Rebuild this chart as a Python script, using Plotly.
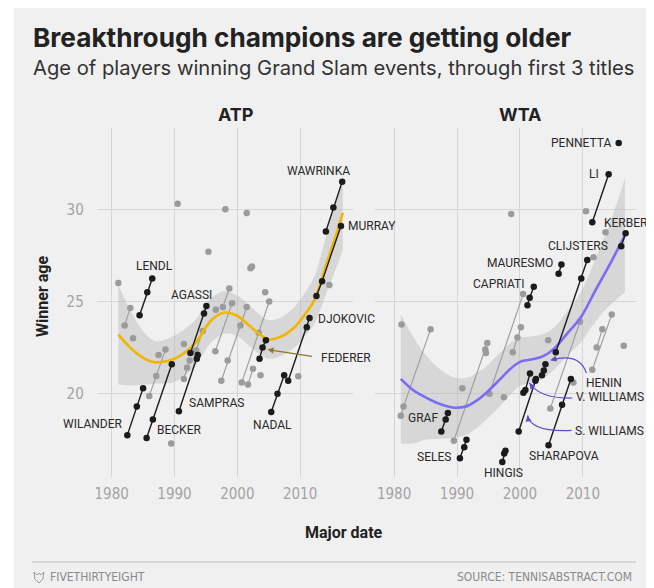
import plotly.graph_objects as go

# The page body has an 8 px margin, so the figure is sized to fit the 654x588 window.
PAGE_W, PAGE_H, OFF = 654, 588, 8
W, H = PAGE_W - OFF, PAGE_H - OFF

# ---------------- DATA ----------------
# ATP: first three Grand Slam titles (major date, age at title)
ATP_NAMES = ["Teacher", "Kriek", "Noah", "Edberg", "Cash", "Chang", "Gomez", "Stich",
             "Courier", "Bruguera", "Muster", "Kafelnikov", "Krajicek", "Rafter", "Korda",
             "Moya", "Kuerten", "Safin", "Hewitt", "Ivanisevic", "Johansson", "Costa",
             "Ferrero", "Roddick", "Gaudio", "Del Potro", "Cilic",
             "Wilander", "Lendl", "Becker", "Sampras", "Agassi", "Federer", "Nadal",
             "Djokovic", "Murray", "Wawrinka"]
ATP_DATES = [[1981.06], [1982.06, 1982.97], [1983.4], [1985.98, 1987.1, 1988.57], [1987.46],
             [1989.47], [1990.5], [1991.5], [1991.5, 1992.0, 1992.4], [1993.44, 1994.5],
             [1995.4], [1996.5, 1999.16], [1996.6], [1997.7, 1998.73], [1998.1], [1998.47],
             [1997.46, 2000.5, 2001.5], [2000.7, 2005.08], [2001.7, 2002.5], [2001.5],
             [2002.1], [2002.33], [2003.4], [2003.7], [2004.44], [2009.7], [2014.66],
             [1982.49, 1984.0, 1985.0], [1984.44, 1985.67, 1986.46], [1985.56, 1986.56, 1989.57],
             [1990.7, 1993.55, 1993.7], [1992.54, 1994.7, 1995.08], [2003.54, 2004.02, 2004.55],
             [2005.4, 2006.4, 2007.46], [2008.1, 2011.06, 2011.5], [2012.6, 2013.5, 2016.5],
             [2014.1, 2015.3, 2016.7]]
ATP_AGES = [[26.0], [23.7, 24.65], [23.0], [19.87, 20.96, 22.4], [22.1],
            [17.3], [30.3], [22.7], [20.8, 21.4, 21.8], [22.36, 23.4],
            [27.7], [22.3, 24.9], [24.55], [24.7, 25.7], [30.0], [21.8],
            [20.7, 23.7, 24.7], [20.6, 25.0], [20.5, 21.35], [29.8],
            [26.8], [26.9], [23.3], [21.0], [25.5], [20.95], [25.9],
            [17.75, 19.3, 20.3], [24.25, 25.5, 26.25], [17.6, 18.6, 21.6],
            [19.05, 21.9, 22.1], [22.2, 24.35, 24.75], [21.9, 22.5, 22.9],
            [19.0, 20.0, 21.0], [20.7, 23.6, 24.1], [25.3, 26.1, 29.1],
            [28.8, 30.1, 31.5]]
ATP_HIGHLIGHT = ["Wilander", "Lendl", "Becker", "Sampras", "Agassi", "Federer", "Nadal",
                 "Djokovic", "Murray", "Wawrinka"]

# ATP loess trend and its confidence half-width
ATP_TREND_X = [1981.06, 1983.4, 1985.5, 1987.1, 1990.05, 1993.2, 1995.9, 1998.0, 2000.1,
               2002.2, 2004.9, 2007.0, 2009.1, 2011.2, 2012.3, 2014.4, 2016.0, 2016.8]
ATP_TREND_Y = [23.2, 22.35, 21.85, 21.7, 21.9, 22.7, 24.0, 24.4, 24.2,
               23.6, 22.95, 23.1, 23.6, 24.5, 25.1, 27.25, 28.9, 29.8]
ATP_TREND_HALF = [2.7, 1.9, 1.35, 1.15, 1.25, 1.25, 1.2, 1.15, 1.1,
                  1.1, 1.05, 1.05, 1.1, 1.2, 1.3, 1.6, 1.85, 2.0]

# WTA
WTA_NAMES = ["Other81", "Mandlikova", "Sanchez Vicario", "Sabatini", "Martinez", "Pierce",
             "Majoli", "Novotna", "Davenport", "Myskina", "Kuznetsova", "Ivanovic",
             "Schiavone", "Kvitova", "Stosur", "Azarenka", "Bartoli", "Muguruza",
             "Graf", "Seles", "Hingis", "S. Williams", "V. Williams", "Capriati", "Henin",
             "Sharapova", "Clijsters", "Mauresmo", "Li", "Pennetta", "Kerber"]
WTA_DATES = [[1981.17], [1981.06, 1981.5, 1985.8], [1989.5, 1994.5, 1994.8], [1990.84],
             [1994.6], [1995.15, 2000.5], [1997.45], [1998.6], [1998.86, 1999.6, 2000.15],
             [2004.5], [2004.83, 2009.54], [2008.5], [2010.5], [2011.5, 2014.6], [2011.7],
             [2012.2, 2013.1], [2013.6], [2016.5],
             [1987.5, 1988.2, 1988.55], [1990.46, 1991.15, 1991.5], [1997.2, 1997.5, 1997.7],
             [1999.8, 2002.45, 2002.55], [2000.55, 2000.87, 2001.6], [2001.2, 2001.55, 2002.2],
             [2003.5, 2003.8, 2004.05], [2004.55, 2006.7, 2008.1], [2005.7, 2009.75, 2010.7],
             [2006.15, 2006.6], [2011.5, 2014.1], [2015.7], [2016.1, 2016.8]]
WTA_AGES = [[23.75], [18.8, 19.3, 23.5], [17.45, 22.4, 22.75], [20.3],
            [22.2], [20.0, 25.4], [19.8], [29.75], [22.25, 23.05, 23.6],
            [22.9], [19.2, 23.9], [20.6], [29.9], [21.3, 24.3], [27.4],
            [22.5, 23.5], [28.75], [22.6],
            [17.95, 18.6, 18.95], [16.5, 17.1, 17.5], [16.3, 16.75, 16.9],
            [17.95, 20.7, 20.8], [20.05, 20.2, 21.1], [24.8, 25.2, 25.8],
            [21.0, 21.25, 21.6], [17.2, 19.4, 20.8], [22.25, 26.25, 27.25],
            [26.5, 27.0], [29.3, 31.9], [33.6], [28.0, 28.7]]
WTA_HIGHLIGHT = ["Graf", "Seles", "Hingis", "S. Williams", "V. Williams", "Capriati", "Henin",
                 "Sharapova", "Clijsters", "Mauresmo", "Li", "Pennetta", "Kerber"]

WTA_TREND_X = [1981.06, 1983.0, 1985.0, 1987.2, 1989.3, 1991.4, 1993.0, 1994.5, 1996.9,
               1998.5, 2000.1, 2001.8, 2003.8, 2005.6, 2007.6, 2009.6, 2012.0, 2014.5, 2016.7]
WTA_TREND_Y = [20.8, 20.2, 19.8, 19.45, 19.25, 19.3, 19.6, 20.0, 20.8,
               21.35, 21.74, 21.85, 22.05, 22.5, 23.3, 24.1, 25.6, 27.15, 28.6]
WTA_TREND_HALF = [3.5, 2.9, 2.3, 1.9, 1.65, 1.55, 1.5, 1.45, 1.45,
                  1.4, 1.3, 1.25, 1.2, 1.15, 1.2, 1.35, 1.7, 2.3, 3.1]

X_TICKS = [1980, 1990, 2000, 2010]
Y_TICKS = [20, 25, 30]

# ---------------- STYLE ----------------
BG = "#f0f0f0"
GRID = "#d6d6d6"
GREY_PT = "#9b9b9b"
BLACK = "#1b1b1b"
ATP_COLOR = "#f2b500"
WTA_COLOR = "#7b6cf6"
BAND = "rgba(185,185,185,0.45)"
ARROW_PURPLE = "#5a4ec6"
ARROW_GOLD = "#8a7a2c"
FONT = "Roboto, 'Noto Sans', sans-serif"
HEAD = "Inter, Roboto, sans-serif"
NARROW = "'Liberation Sans Narrow', 'DejaVu Sans Condensed', sans-serif"

# label placement: name -> (point index, xanchor, xshift, yshift)
ATP_LABELS = {
    "Wawrinka": (2, "right", 10, 11),
    "Murray": (2, "left", 5, 0),
    "Lendl": (2, "center", 2, 12),
    "Agassi": (2, "right", 8, 11),
    "Djokovic": (2, "left", 6, -1),
    "Sampras": (0, "left", 8, 8),
    "Wilander": (0, "right", -2, 11),
    "Becker": (0, "left", 8, 8),
    "Nadal": (0, "center", 1, -13),
}
WTA_LABELS = {
    "Pennetta": (0, "right", -6, 0),
    "Li": (1, "right", -8, 0),
    "Kerber": (1, "center", 0, 10),
    "Clijsters": (2, "center", -9, 14),
    "Mauresmo": (1, "right", -6, 2),
    "Capriati": (2, "right", -8, 3),
    "Graf": (1, "right", -6, 1),
    "Seles": (0, "right", -7, 1),
    "Hingis": (0, "center", 1, -11),
    "Sharapova": (0, "center", 15, -11),
    "Henin": (2, "left", 39, -19),
    "V. Williams": (2, "left", 44, -24),
    "S. Williams": (2, "left", 37, -52),
}


def fx(px):
    return (px - OFF) / W


def fy(py):
    return 1 - (py - OFF) / H


XD1 = [fx(95), fx(352)]
XD2 = [fx(374), fx(636)]
YD = [fy(477), fy(128)]
XR1 = [1977.62, 2018.41]
XR2 = [1976.94, 2018.46]
YR = [15.48, 34.41]

fig = go.Figure()


def add_panel(xa, ya, names, dates, ages, highlight, tx, ty, th, color):
    lower = [a - h for a, h in zip(ty, th)]
    upper = [a + h for a, h in zip(ty, th)]
    fig.add_trace(go.Scatter(x=tx, y=lower, mode="lines", line=dict(width=0, shape="spline"),
                             xaxis=xa, yaxis=ya, hoverinfo="skip", showlegend=False))
    fig.add_trace(go.Scatter(x=tx, y=upper, mode="lines", line=dict(width=0, shape="spline"),
                             fill="tonexty", fillcolor=BAND,
                             xaxis=xa, yaxis=ya, hoverinfo="skip", showlegend=False))
    for n, d, a in zip(names, dates, ages):
        if n in highlight:
            continue
        fig.add_trace(go.Scatter(x=d, y=a, mode="lines+markers",
                                 line=dict(color=GREY_PT, width=1.1),
                                 marker=dict(color=GREY_PT, size=6.5),
                                 xaxis=xa, yaxis=ya, name=n, showlegend=False))
    fig.add_trace(go.Scatter(x=tx, y=ty, mode="lines", line=dict(color=color, width=2.6, shape="spline"),
                             xaxis=xa, yaxis=ya, hoverinfo="skip", showlegend=False))
    for n, d, a in zip(names, dates, ages):
        if n not in highlight:
            continue
        fig.add_trace(go.Scatter(x=d, y=a, mode="lines+markers",
                                 line=dict(color=BLACK, width=1.4),
                                 marker=dict(color=BLACK, size=6.5),
                                 xaxis=xa, yaxis=ya, name=n, showlegend=False))


add_panel("x", "y", ATP_NAMES, ATP_DATES, ATP_AGES, ATP_HIGHLIGHT,
          ATP_TREND_X, ATP_TREND_Y, ATP_TREND_HALF, ATP_COLOR)
add_panel("x2", "y2", WTA_NAMES, WTA_DATES, WTA_AGES, WTA_HIGHLIGHT,
          WTA_TREND_X, WTA_TREND_Y, WTA_TREND_HALF, WTA_COLOR)

annotations = []
label_font = dict(family=FONT, size=12, color="#2a2a2a")


def add_labels(xa, ya, names, dates, ages, labels):
    for n, (i, anchor, xs, ys) in labels.items():
        k = names.index(n)
        annotations.append(dict(x=dates[k][i], y=ages[k][i], xref=xa, yref=ya,
                                text=n.upper(), showarrow=False, xanchor=anchor,
                                yanchor="middle", xshift=xs, yshift=ys, font=label_font))


add_labels("x", "y", ATP_NAMES, ATP_DATES, ATP_AGES, ATP_LABELS)
add_labels("x2", "y2", WTA_NAMES, WTA_DATES, WTA_AGES, WTA_LABELS)

# Federer label + straight arrow
kf = ATP_NAMES.index("Federer")
annotations.append(dict(x=ATP_DATES[kf][1], y=ATP_AGES[kf][1], xref="x", yref="y",
                        text="FEDERER", showarrow=False, xanchor="left", yanchor="middle",
                        xshift=56, yshift=-10, font=label_font))
annotations.append(dict(x=ATP_DATES[kf][1], y=ATP_AGES[kf][1], xref="x", yref="y",
                        text="", showarrow=True, arrowhead=2, arrowsize=1, arrowwidth=1.2,
                        arrowcolor=ARROW_GOLD, ax=46, ay=7, xshift=5, yshift=-2))

# WTA curved arrows: (player, point index, path in pixels, head shift, tail offset)
CURVES = [
    ("Henin", 2, "M 41 -9 Q 34 12 6 4", (5, 4), (8, -2)),
    ("V. Williams", 1, "M 47 -8 Q 15 -9 4 7", (4, 7), (5, 7)),
    ("S. Williams", 0, "M 53 1 Q 12 -1 9 16", (9, 16), (1, 7)),
]
shapes = []
for n, i, path, (hx, hy), (tx_, ty_) in CURVES:
    k = WTA_NAMES.index(n)
    shapes.append(dict(type="path", xref="x2", yref="y2", xsizemode="pixel", ysizemode="pixel",
                       xanchor=WTA_DATES[k][i], yanchor=WTA_AGES[k][i], path=path,
                       line=dict(color=ARROW_PURPLE, width=1.2)))
    annotations.append(dict(x=WTA_DATES[k][i], y=WTA_AGES[k][i], xref="x2", yref="y2",
                            text="", showarrow=True, arrowhead=2, arrowsize=1, arrowwidth=1.2,
                            arrowcolor=ARROW_PURPLE, ax=tx_, ay=ty_, xshift=hx, yshift=hy))

# background panel
shapes.insert(0, dict(type="rect", xref="paper", yref="paper", x0=fx(12), x1=1, y0=0, y1=1,
                      fillcolor=BG, line=dict(width=0), layer="below"))
# footer rule
shapes.append(dict(type="line", xref="paper", yref="paper", x0=fx(30), x1=fx(636),
                   y0=fy(562), y1=fy(562), line=dict(color="#bdbdbd", width=1.2)))
# small logo glyph
shapes.append(dict(type="path", xref="paper", yref="paper", xsizemode="pixel", ysizemode="pixel",
                   xanchor=fx(37), yanchor=fy(577),
                   path="M -5 5 L -2 2 L 0 4 L 2 2 L 5 5 L 4 -2 L 0 -6 L -4 -2 Z",
                   line=dict(color="#9a9a9a", width=1)))


def paper_text(text, x, y, size, color, bold=False, anchor="left", family=FONT, angle=0):
    annotations.append(dict(text=f"<b>{text}</b>" if bold else text, x=fx(x), y=fy(y),
                            xref="paper", yref="paper", showarrow=False, xanchor=anchor,
                            yanchor="middle", textangle=angle,
                            font=dict(family=family, size=size, color=color)))


paper_text("Breakthrough champions are getting older", 29, 37, 26.2, "#222222", bold=True, family=HEAD)
paper_text("Age of players winning Grand Slam events, through first 3 titles", 29, 67, 20.2, "#333333",
           family=HEAD)
paper_text("ATP", 235, 115, 18, "#222222", bold=True, anchor="center", family=HEAD)
paper_text("WTA", 520, 115, 18, "#222222", bold=True, anchor="center", family=HEAD)
paper_text("Winner age", 40, 296, 16, "#222222", bold=True, anchor="center", angle=-90)
paper_text("Major date", 343, 532, 16, "#222222", bold=True, anchor="center")
paper_text("FIVETHIRTYEIGHT", 46, 577, 12, "#8a8a8a", family=NARROW)
paper_text("SOURCE: TENNISABSTRACT.COM", 634, 577, 12, "#8a8a8a", anchor="right", family=NARROW)

tick_font = dict(family=NARROW, size=15, color="#a3a3a3")
axis_common = dict(showgrid=True, gridcolor=GRID, gridwidth=1.3, zeroline=False,
                   showline=False, ticks="", tickfont=tick_font)

fig.update_layout(
    width=W, height=H,
    margin=dict(l=0, r=0, t=0, b=0),
    paper_bgcolor="white", plot_bgcolor="rgba(0,0,0,0)",
    showlegend=False,
    xaxis=dict(domain=XD1, range=XR1, tickvals=X_TICKS, anchor="y", ticklabelstandoff=6, **axis_common),
    xaxis2=dict(domain=XD2, range=XR2, tickvals=X_TICKS, anchor="y2", ticklabelstandoff=6, **axis_common),
    yaxis=dict(domain=YD, range=YR, tickvals=Y_TICKS, anchor="x", ticklabelstandoff=12, **axis_common),
    yaxis2=dict(domain=YD, range=YR, tickvals=Y_TICKS, anchor="x2", showticklabels=False, **axis_common),
    annotations=annotations,
    shapes=shapes,
)

fig.write_html("out.html")
